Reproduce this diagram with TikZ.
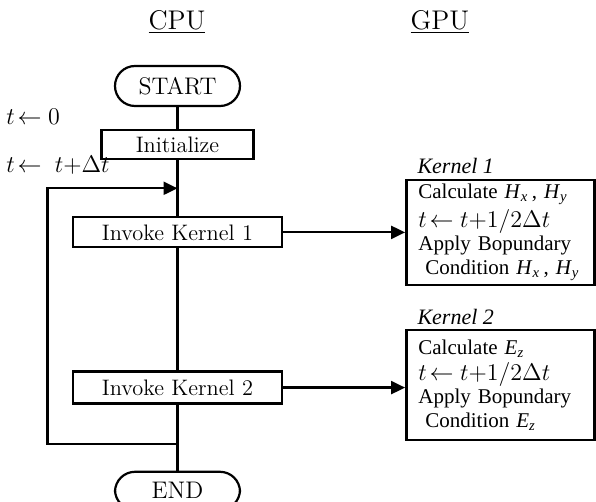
\documentclass[tikz,border=0pt]{standalone}
\usepackage{fontspec}
\newfontfamily\gpufont{Liberation Serif}
\usetikzlibrary{positioning,arrows.meta}

\begin{document}
\begin{tikzpicture}[x=1pt,y=1pt,
    head/.style={font=\fontsize{13.5}{16}\selectfont},
    term/.style={draw,line width=1.1pt,rounded corners=10pt,minimum width=62.5pt,
                 minimum height=20pt,inner sep=0pt,font=\fontsize{12}{14}\selectfont},
    cpubox/.style={draw,line width=1.1pt,minimum width=104.5pt,minimum height=15pt,
                   inner sep=0pt,font=\fontsize{11.2}{13}\selectfont},
    kernbox/.style={draw,line width=1.3pt,text width=82pt,inner xsep=6pt,inner ysep=1pt,
                    minimum height=52.5pt,align=left,font=\gpufont\fontsize{10.5}{11.8}\selectfont},
    kernlabel/.style={inner sep=1pt,font=\gpufont\itshape\fontsize{11}{13}\selectfont},
    tlabel/.style={anchor=west,inner sep=0pt,font=\fontsize{11.5}{13}\selectfont},
    flow/.style={line width=1.1pt},
    arrow/.style={flow,-{Triangle[length=7pt,width=6.5pt]}}]
  \useasboundingbox (0,0) rectangle (298,-251);

  \node[head] (cpu) at (88.5,-11) {\underline{CPU}};
  \node[head] (gpu) at (220,-11) {\underline{GPU}};

  \node[term] (start) at (88.75,-43) {START};
  \node[cpubox, minimum width=76pt, minimum height=14.5pt, below=11pt of start] (init) {Initialize};
  \node[cpubox, below=28pt of init] (call1) {Invoke Kernel 1};
  \node[cpubox, minimum height=16pt, below=61pt of call1] (call2) {Invoke Kernel 2};
  \node[term, minimum height=19pt, below=33pt of call2] (end) {END};

  \node[kernbox, right=61pt of call1] (kern1)
    {Calculate \textit{H}\textsubscript{\textit{x}}\,, \textit{H}\textsubscript{\textit{y}}\\[1pt]
     {\fontsize{12.5}{13}\selectfont$t\!\leftarrow t{+}1/2\Delta t$}\\
     Apply Bopundary\\
     \ Condition \textit{H}\textsubscript{\textit{x}}\,, \textit{H}\textsubscript{\textit{y}}};
  \node[kernbox, minimum height=55pt, right=61pt of call2, yshift=1.2pt] (kern2)
    {Calculate \textit{E}\textsubscript{\textit{z}}\\[1pt]
     {\fontsize{12.5}{13}\selectfont$t\!\leftarrow t{+}1/2\Delta t$}\\
     Apply Bopundary\\
     \ Condition \textit{E}\textsubscript{\textit{z}}};
  \node[kernlabel, above right=1pt and 5pt of kern1.north west] (k1name) {Kernel 1};
  \node[kernlabel, above right=1pt and 5pt of kern2.north west] (k2name) {Kernel 2};

  \node[tlabel] (tzero) at (3,-58.5) {$t\!\leftarrow 0$};
  \node[tlabel] (tstep) at (3,-82.5) {$t\!\leftarrow\; t{+}\Delta t$};

  \coordinate[below=14pt of init.south] (loopin);
  \coordinate[below=19.5pt of call2.south] (loopout);

  \draw[flow] (start) -- (init);
  \draw[flow] (init) -- (call1);
  \draw[flow] (call1) -- (call2);
  \draw[flow] (call2) -- (end);
  \draw[arrow] (loopout) -- ++(-65,0) |- (loopin);
  \draw[arrow] (call1) -- (call1 -| kern1.west);
  \draw[arrow] (call2) -- (call2 -| kern2.west);
\end{tikzpicture}
\end{document}
